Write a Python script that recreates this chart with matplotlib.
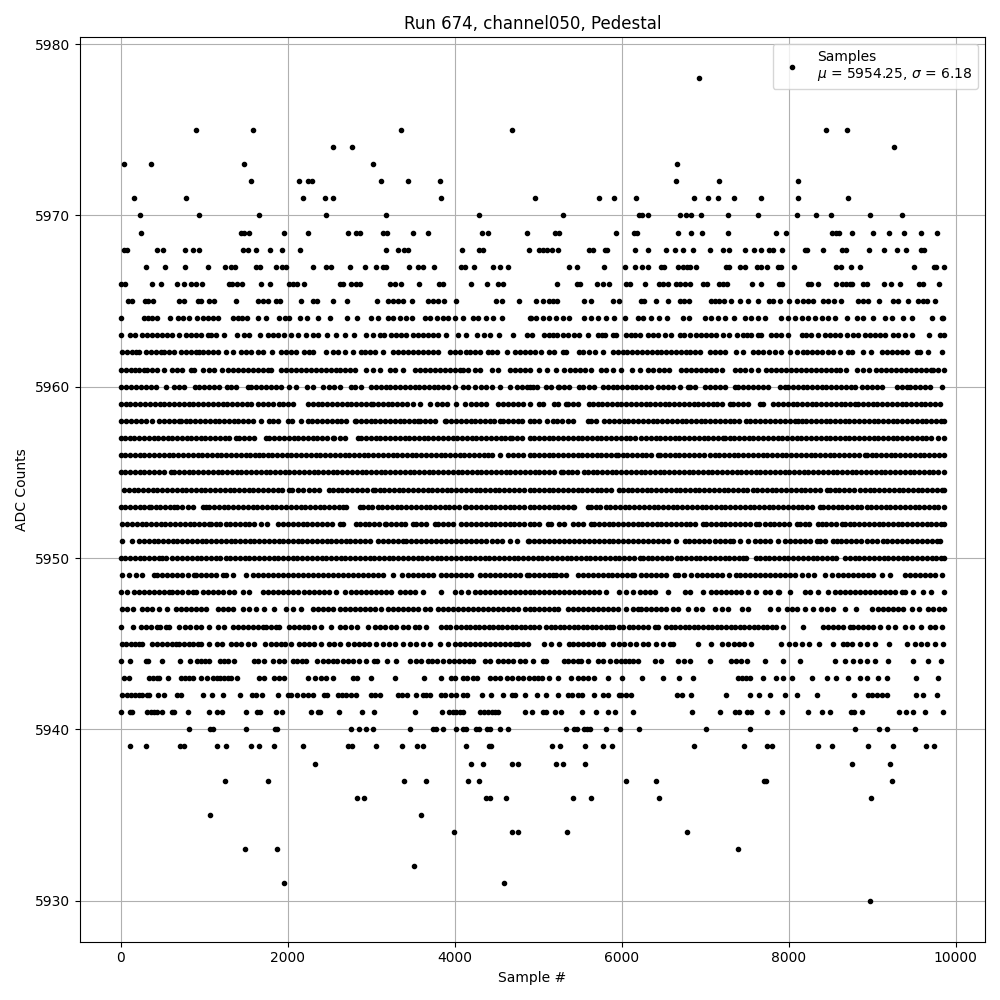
import matplotlib
matplotlib.use('Agg')
import matplotlib.pyplot as plt

# Sample numbers, one list per ADC level
s_5930 = [8976]
s_5931 = [1952, 4592]
s_5932 = [3512]
s_5933 = [1484, 1868, 7392]
s_5934 = [3992, 4688, 4760, 5340, 6780]
s_5935 = [1064, 3596]
s_5936 = [2828, 2912, 4376, 4424, 4616, 5412, 5628, 6444, 8988]
s_5937 = [1244, 1760, 3392, 3656, 4160, 4292, 6048, 6408, 7708, 7732, 9240]
s_5938 = [2324, 4196, 4340, 4688, 4760, 5208, 5292, 5556, 8760, 9216]
s_5939 = [116, 308, 716, 764, 1148, 1256, 1556, 1652, 1832, 2180, 2720, 2768, 3056, 3368, 3548, 3620, 4136, 4412,
          4436, 5160, 5256, 5556, 5772, 5880, 6864, 7464, 7740, 7800, 8352, 8520, 8952, 9252, 9648, 9744]
s_5940 = [812, 1064, 1100, 1496, 1844, 1868, 2756, 2852, 2936, 3020, 3464, 3740, 3776, 3860, 4016, 4100, 4140, 4256,
          4292, 4388, 4424, 4544, 4640, 5328, 5424, 5460, 5544, 5580, 5616, 5808, 5976, 6204, 7008, 7536, 8796, 9084,
          9180, 9516]
s_5941 = [0, 112, 136, 320, 364, 400, 440, 500, 620, 644, 800, 1052, 1148, 1208, 1496, 1628, 1664, 1856, 1928, 2276,
          2360, 2384, 2612, 2888, 3032, 3524, 3848, 3932, 3980, 4020, 4060, 4100, 4300, 4350, 4400, 4440, 4480, 4520,
          4844, 4920, 5052, 5092, 5196, 5268, 5520, 5688, 5832, 5916, 6132, 6840, 7176, 7356, 7404, 7500, 7548, 7740,
          7920, 8232, 8400, 8496, 8748, 8784, 8880, 9324, 9408, 9484, 9636, 9840]
s_5942 = [20, 70, 120, 170, 220, 260, 310, 340, 452, 524, 680, 724, 980, 1088, 1220, 1424, 1572, 1620, 1688, 1880,
          2000, 2036, 2108, 2188, 2240, 2300, 2432, 2468, 2600, 2650, 2700, 2760, 2820, 3000, 3050, 3100, 3320, 3370,
          3428, 3536, 3620, 3660, 3700, 3840, 3880, 3960, 4020, 4100, 4148, 4328, 4436, 4576, 4680, 4720, 4836, 4980,
          5088, 5232, 5352, 5400, 5472, 5520, 5672, 5772, 5832, 5964, 5988, 6048, 6108, 6660, 6720, 6828, 7248, 7536,
          7644, 7776, 7956, 8100, 8340, 8784, 8952, 9000, 9060, 9120, 9170, 9528, 9612, 9780]
s_5943 = [40, 100, 340, 390, 440, 460, 572, 720, 770, 820, 860, 956, 1028, 1100, 1150, 1190, 1240, 1280, 1320, 1388,
          1660, 1720, 1840, 1900, 1960, 2240, 2324, 2400, 2460, 2540, 2780, 2828, 2996, 3284, 3632, 3836, 3960, 4000,
          4100, 4148, 4220, 4268, 4420, 4480, 4540, 4620, 4680, 4760, 4812, 4892, 4950, 5000, 5050, 5130, 5232, 5392,
          5472, 5530, 5600, 5672, 5832, 6000, 6240, 6492, 6684, 6852, 7392, 7440, 7490, 7532, 7692, 7848, 7932, 8040,
          8280, 8460, 8568, 8712, 8852, 8932, 9072, 9180, 9528, 9792]
s_5944 = [8, 108, 300, 332, 500, 716, 824, 908, 960, 1010, 1060, 1190, 1240, 1290, 1360, 1592, 1640, 1720, 1820, 1900,
          1952, 2060, 2110, 2170, 2220, 2348, 2428, 2480, 2540, 2588, 2660, 2720, 2780, 2850, 2940, 3028, 3072, 3188,
          3292, 3460, 3540, 3592, 3680, 3730, 3790, 3860, 3932, 3990, 4050, 4110, 4170, 4220, 4360, 4420, 4520, 4580,
          4640, 4700, 4780, 4840, 4932, 5052, 5092, 5312, 5360, 5410, 5470, 5512, 5592, 5712, 5772, 5856, 5928, 5992,
          6040, 6090, 6130, 6192, 6392, 6472, 6672, 6740, 6812, 7052, 7312, 7372, 7424, 7500, 7716, 7932, 8136, 8556,
          8676, 8772, 8852, 8932, 9036, 9192, 9484, 9672, 9820]
s_5945 = [20, 60, 120, 170, 220, 260, 380, 440, 500, 560, 620, 660, 700, 760, 820, 870, 920, 960, 1060, 1148, 1210,
          1320, 1380, 1440, 1520, 1600, 1728, 1800, 1860, 1920, 1968, 2040, 2132, 2200, 2260, 2320, 2400, 2500, 2560,
          2620, 2720, 2790, 2850, 2910, 2970, 3060, 3140, 3212, 3280, 3380, 3460, 3540, 3620, 3700, 3820, 3920, 4000,
          4060, 4120, 4180, 4240, 4300, 4360, 4420, 4480, 4540, 4600, 4660, 4720, 4760, 4820, 4880, 5072, 5150, 5252,
          5372, 5412, 5470, 5530, 5590, 5650, 5732, 5772, 5892, 5964, 6032, 6100, 6170, 6252, 6312, 6412, 6492, 6572,
          6612, 6912, 7068, 7200, 7272, 7340, 7400, 7460, 7552, 7908, 8004, 8072, 8152, 8244, 8364, 8532, 8652, 8692,
          8752, 8852, 8932, 9032, 9200, 9412, 9512, 9580, 9652, 9756, 9840]
s_5946 = [0, 152, 240, 300, 360, 440, 476, 540, 580, 700, 772, 828, 900, 960, 1060, 1160, 1240, 1340, 1400, 1460, 1520,
          1580, 1640, 1700, 1740, 1800, 1860, 1900, 2020, 2080, 2140, 2190, 2240, 2320, 2400, 2520, 2620, 2680, 2760,
          2828, 2964, 3040, 3100, 3160, 3240, 3300, 3380, 3440, 3520, 3572, 3660, 3840, 3900, 3948, 4020, 4075, 4130,
          4185, 4240, 4295, 4350, 4405, 4460, 4515, 4570, 4625, 4680, 4735, 4790, 4845, 4900, 4950, 5012, 5092, 5147,
          5202, 5257, 5312, 5367, 5422, 5477, 5532, 5587, 5642, 5697, 5752, 5807, 5862, 5892, 5964, 6020, 6090, 6140,
          6195, 6250, 6310, 6392, 6432, 6532, 6587, 6642, 6697, 6752, 6807, 6862, 6917, 6972, 7027, 7082, 7137, 7192,
          7247, 7302, 7357, 7412, 7467, 7522, 7577, 7632, 7687, 7742, 7797, 7852, 7932, 8172, 8412, 8470, 8530, 8590,
          8650, 8732, 8772, 8830, 8890, 8950, 9010, 9092, 9192, 9272, 9392, 9472, 9580, 9692, 9752, 9832]
s_5947 = [20, 70, 150, 260, 320, 380, 460, 560, 660, 720, 780, 840, 900, 960, 1020, 1160, 1220, 1280, 1340, 1460, 1540,
          1620, 1720, 1840, 1980, 2060, 2160, 2300, 2360, 2420, 2480, 2540, 2620, 2680, 2740, 2800, 2860, 2920, 2980,
          3040, 3120, 3200, 3260, 3320, 3380, 3440, 3500, 3560, 3640, 3700, 3800, 3860, 3920, 3980, 4040, 4100, 4160,
          4220, 4280, 4340, 4400, 4460, 4520, 4580, 4640, 4700, 4760, 4840, 4900, 4952, 5012, 5072, 5132, 5192, 5232,
          5352, 5412, 5472, 5532, 5592, 5652, 5712, 5772, 5832, 5892, 5952, 6052, 6132, 6192, 6232, 6292, 6352, 6412,
          6472, 6532, 6612, 6672, 6792, 6892, 6964, 7116, 7200, 7272, 7440, 7512, 7780, 7872, 7980, 8040, 8100, 8192,
          8292, 8380, 8452, 8532, 8676, 8808, 8992, 9072, 9132, 9192, 9252, 9312, 9372, 9472, 9560, 9672, 9732, 9800,
          9852]
s_5948 = [0, 80, 160, 220, 280, 340, 400, 460, 520, 580, 620, 680, 740, 800, 860, 900, 980, 1040, 1100, 1160, 1220,
          1300, 1360, 1460, 1540, 1700, 1760, 1820, 1880, 1940, 2000, 2060, 2120, 2200, 2260, 2320, 2380, 2440, 2500,
          2580, 2688, 2760, 2820, 2880, 2940, 3000, 3060, 3120, 3180, 3240, 3340, 3400, 3460, 3520, 3620, 3832, 4000,
          4080, 4160, 4240, 4300, 4360, 4420, 4480, 4540, 4600, 4660, 4720, 4780, 4840, 4900, 4952, 5012, 5072, 5132,
          5192, 5252, 5312, 5372, 5432, 5492, 5552, 5612, 5672, 5732, 5812, 5972, 6052, 6132, 6212, 6272, 6332, 6392,
          6552, 6752, 6812, 6972, 7072, 7132, 7192, 7252, 7312, 7372, 7432, 7512, 7612, 7712, 7772, 7872, 7884, 8012,
          8192, 8252, 8352, 8472, 8552, 8612, 8672, 8732, 8792, 8852, 8912, 8972, 9032, 9092, 9152, 9212, 9272, 9352,
          9392, 9492, 9612, 9700, 9852]
s_5949 = [20, 100, 180, 260, 400, 440, 500, 560, 620, 680, 740, 800, 880, 900, 960, 1020, 1080, 1140, 1220, 1260, 1340,
          1500, 1580, 1640, 1700, 1760, 1820, 1880, 1940, 2000, 2060, 2120, 2180, 2240, 2300, 2360, 2420, 2480, 2540,
          2600, 2660, 2720, 2780, 2840, 2900, 2960, 3020, 3080, 3140, 3260, 3372, 3440, 3500, 3560, 3620, 3680, 3740,
          3840, 3900, 3960, 4020, 4080, 4140, 4200, 4300, 4360, 4420, 4480, 4540, 4600, 4660, 4720, 4780, 4860, 4892,
          4952, 5012, 5072, 5132, 5172, 5212, 5272, 5332, 5472, 5532, 5592, 5652, 5712, 5772, 5832, 5884, 5944, 6004,
          6064, 6124, 6152, 6224, 6292, 6352, 6412, 6472, 6532, 6632, 6672, 6740, 6830, 6900, 6960, 7020, 7080, 7140,
          7200, 7280, 7372, 7412, 7472, 7532, 7592, 7652, 7712, 7772, 7832, 7892, 7952, 8012, 8072, 8152, 8232, 8300,
          8432, 8512, 8592, 8652, 8712, 8772, 8832, 8892, 8952, 9012, 9112, 9212, 9392, 9452, 9512, 9572, 9632, 9692,
          9752, 9832]
s_5950 = [0, 55, 115, 170, 230, 285, 345, 400, 460, 500, 540, 620, 680, 735, 795, 850, 910, 965, 1025, 1080, 1140, 1195,
          1255, 1310, 1370, 1425, 1485, 1540, 1600, 1655, 1715, 1770, 1830, 1885, 1945, 2000, 2060, 2115, 2175, 2230,
          2290, 2345, 2405, 2460, 2520, 2575, 2635, 2690, 2750, 2805, 2865, 2920, 2980, 3035, 3095, 3150, 3210, 3265,
          3325, 3380, 3440, 3495, 3555, 3610, 3670, 3725, 3785, 3840, 3900, 3955, 4015, 4070, 4130, 4185, 4245, 4300,
          4360, 4415, 4475, 4530, 4590, 4645, 4705, 4760, 4820, 4880, 4935, 4995, 5050, 5110, 5165, 5225, 5280, 5340,
          5395, 5455, 5510, 5570, 5625, 5685, 5740, 5800, 5855, 5915, 5970, 6030, 6085, 6145, 6212, 6252, 6310, 6365,
          6425, 6480, 6540, 6595, 6655, 6710, 6770, 6825, 6885, 6940, 7000, 7055, 7115, 7170, 7230, 7285, 7345, 7400,
          7452, 7492, 7612, 7652, 7710, 7765, 7825, 7880, 7940, 7995, 8055, 8110, 8170, 8225, 8285, 8340, 8400, 8455,
          8515, 8570, 8672, 8732, 8790, 8845, 8905, 8960, 9020, 9075, 9135, 9190, 9250, 9305, 9365, 9420, 9480, 9535,
          9595, 9650, 9710, 9765, 9825, 9856]
s_5951 = [20, 140, 220, 278, 335, 395, 450, 510, 565, 625, 680, 740, 795, 855, 910, 970, 1025, 1085, 1140, 1200, 1255,
          1315, 1370, 1430, 1485, 1545, 1600, 1660, 1715, 1775, 1830, 1890, 1945, 2005, 2060, 2120, 2175, 2235, 2290,
          2350, 2405, 2465, 2520, 2580, 2635, 2695, 2750, 2810, 2865, 2925, 2980, 3080, 3140, 3200, 3260, 3320, 3380,
          3420, 3480, 3540, 3600, 3660, 3720, 3780, 3840, 3900, 3960, 4020, 4080, 4140, 4200, 4260, 4320, 4380, 4440,
          4500, 4560, 4660, 4740, 4880, 4892, 4952, 5012, 5070, 5130, 5190, 5250, 5310, 5370, 5430, 5490, 5550, 5610,
          5670, 5730, 5790, 5852, 5892, 5950, 6010, 6070, 6130, 6190, 6250, 6310, 6370, 6430, 6490, 6550, 6652, 6752,
          6810, 6870, 6930, 6990, 7050, 7110, 7170, 7230, 7292, 7332, 7412, 7512, 7592, 7652, 7710, 7770, 7872, 7952,
          8010, 8070, 8130, 8190, 8250, 8332, 8372, 8432, 8532, 8572, 8630, 8690, 8750, 8810, 8870, 8930, 8990, 9050,
          9132, 9172, 9230, 9290, 9350, 9410, 9470, 9530, 9590, 9650, 9710, 9770, 9812]
s_5952 = [20, 75, 135, 190, 250, 305, 365, 420, 480, 535, 595, 650, 710, 765, 825, 880, 940, 995, 1060, 1080, 1140,
          1195, 1255, 1310, 1370, 1425, 1485, 1540, 1600, 1680, 1748, 1880, 1948, 2005, 2065, 2120, 2180, 2235, 2295,
          2350, 2410, 2465, 2525, 2620, 2660, 2820, 2860, 2920, 2975, 3035, 3090, 3160, 3180, 3240, 3295, 3355, 3410,
          3500, 3540, 3600, 3655, 3760, 3800, 3860, 3915, 3975, 4080, 4140, 4200, 4255, 4315, 4370, 4430, 4485, 4545,
          4600, 4660, 4715, 4775, 4830, 4900, 4950, 5012, 5112, 5152, 5252, 5312, 5412, 5472, 5532, 5632, 5672, 5730,
          5785, 5845, 5900, 5960, 6015, 6075, 6130, 6190, 6245, 6305, 6360, 6420, 6475, 6535, 6590, 6650, 6705, 6765,
          6820, 6880, 6972, 7012, 7070, 7125, 7185, 7240, 7300, 7355, 7415, 7470, 7530, 7612, 7644, 7712, 7770, 7825,
          7885, 7940, 8000, 8092, 8132, 8190, 8245, 8352, 8392, 8450, 8505, 8565, 8632, 8672, 8730, 8785, 8845, 8900,
          8960, 9015, 9075, 9130, 9190, 9245, 9305, 9360, 9420, 9475, 9535, 9590, 9650, 9705, 9765, 9820, 9852]
s_5953 = [0, 55, 115, 170, 230, 285, 340, 360, 420, 475, 535, 590, 640, 680, 740, 800, 860, 980, 1020, 1060, 1120, 1175,
          1235, 1290, 1350, 1405, 1465, 1520, 1580, 1635, 1695, 1750, 1810, 1865, 1925, 1980, 2040, 2095, 2155, 2210,
          2270, 2325, 2385, 2440, 2500, 2555, 2615, 2660, 2700, 2860, 2900, 2960, 3015, 3075, 3130, 3190, 3245, 3305,
          3360, 3420, 3475, 3535, 3590, 3650, 3705, 3765, 3820, 3880, 3935, 3995, 4050, 4120, 4140, 4200, 4255, 4315,
          4370, 4430, 4485, 4545, 4600, 4660, 4715, 4775, 4830, 4900, 4950, 5012, 5070, 5125, 5185, 5240, 5300, 5355,
          5412, 5432, 5592, 5632, 5690, 5745, 5805, 5860, 5920, 5975, 6035, 6090, 6150, 6205, 6265, 6320, 6380, 6435,
          6495, 6550, 6610, 6665, 6725, 6780, 6840, 6895, 6955, 7010, 7070, 7125, 7185, 7240, 7300, 7355, 7415, 7470,
          7530, 7585, 7645, 7700, 7760, 7815, 7875, 7930, 7990, 8045, 8105, 8160, 8220, 8275, 8372, 8412, 8470, 8525,
          8585, 8640, 8700, 8755, 8815, 8870, 8930, 8985, 9045, 9100, 9160, 9215, 9275, 9330, 9390, 9445, 9505, 9560,
          9620, 9675, 9735, 9790, 9852]
s_5954 = [40, 95, 155, 210, 270, 325, 385, 440, 500, 555, 615, 670, 730, 785, 845, 900, 960, 1015, 1075, 1130, 1190,
          1245, 1305, 1360, 1420, 1475, 1535, 1590, 1650, 1705, 1765, 1820, 1880, 1935, 2020, 2052, 2120, 2180, 2260,
          2320, 2380, 2500, 2540, 2600, 2655, 2715, 2770, 2830, 2885, 2945, 3020, 3040, 3100, 3155, 3215, 3270, 3330,
          3385, 3445, 3500, 3560, 3615, 3675, 3730, 3790, 3845, 3905, 3960, 4020, 4075, 4135, 4190, 4250, 4305, 4365,
          4420, 4480, 4535, 4595, 4650, 4710, 4765, 4825, 4900, 4950, 5010, 5065, 5125, 5180, 5240, 5295, 5355, 5410,
          5470, 5525, 5585, 5640, 5700, 5755, 5815, 5870, 5972, 6012, 6070, 6125, 6185, 6240, 6300, 6355, 6415, 6470,
          6530, 6585, 6645, 6700, 6760, 6815, 6875, 6930, 6990, 7045, 7105, 7160, 7220, 7275, 7335, 7390, 7450, 7505,
          7565, 7620, 7680, 7735, 7795, 7850, 7910, 7965, 8025, 8080, 8140, 8195, 8255, 8310, 8370, 8452, 8492, 8550,
          8605, 8665, 8720, 8780, 8852, 8912, 8970, 9025, 9085, 9140, 9200, 9255, 9315, 9370, 9430, 9485, 9545, 9600,
          9660, 9715, 9775, 9830, 9852]
s_5955 = [0, 55, 115, 170, 230, 285, 345, 400, 460, 515, 600, 640, 700, 755, 815, 870, 930, 985, 1045, 1100, 1160, 1215,
          1275, 1330, 1390, 1445, 1505, 1560, 1620, 1675, 1735, 1790, 1850, 1905, 1965, 2020, 2080, 2135, 2195, 2250,
          2310, 2365, 2425, 2480, 2540, 2595, 2655, 2710, 2770, 2825, 2885, 2940, 3000, 3055, 3115, 3170, 3230, 3285,
          3345, 3400, 3460, 3515, 3575, 3630, 3690, 3745, 3805, 3860, 3920, 3975, 4035, 4090, 4150, 4205, 4265, 4320,
          4380, 4435, 4495, 4550, 4610, 4665, 4725, 4780, 4840, 4895, 4955, 5010, 5070, 5125, 5185, 5272, 5292, 5350,
          5405, 5465, 5552, 5592, 5650, 5705, 5765, 5820, 5880, 5935, 5995, 6050, 6110, 6165, 6225, 6280, 6340, 6395,
          6455, 6510, 6570, 6625, 6685, 6740, 6800, 6855, 6915, 6970, 7030, 7085, 7145, 7200, 7260, 7315, 7375, 7430,
          7490, 7545, 7605, 7660, 7720, 7775, 7835, 7890, 7950, 8005, 8065, 8120, 8180, 8235, 8295, 8350, 8410, 8465,
          8525, 8580, 8640, 8695, 8755, 8810, 8870, 8925, 8985, 9040, 9100, 9155, 9215, 9270, 9330, 9385, 9445, 9500,
          9560, 9615, 9675, 9730, 9790, 9852]
s_5956 = [0, 55, 115, 170, 230, 285, 345, 400, 460, 515, 575, 630, 690, 745, 805, 860, 920, 975, 1035, 1090, 1150, 1205,
          1265, 1320, 1380, 1435, 1495, 1550, 1610, 1660, 1700, 1760, 1815, 1875, 1930, 1990, 2045, 2105, 2160, 2220,
          2275, 2335, 2390, 2450, 2505, 2565, 2620, 2680, 2735, 2795, 2850, 2910, 2965, 3025, 3080, 3140, 3195, 3255,
          3310, 3370, 3425, 3485, 3540, 3600, 3655, 3715, 3770, 3830, 3885, 3945, 4000, 4060, 4115, 4175, 4230, 4290,
          4345, 4400, 4448, 4540, 4640, 4700, 4760, 4820, 4900, 4950, 5010, 5065, 5125, 5180, 5240, 5295, 5355, 5410,
          5470, 5525, 5585, 5640, 5700, 5755, 5815, 5870, 5932, 5952, 6010, 6065, 6125, 6180, 6240, 6295, 6355, 6432,
          6460, 6520, 6575, 6635, 6690, 6750, 6805, 6865, 6920, 6980, 7052, 7110, 7165, 7225, 7280, 7340, 7395, 7455,
          7510, 7570, 7625, 7685, 7740, 7800, 7855, 7915, 7970, 8030, 8085, 8145, 8200, 8260, 8315, 8375, 8430, 8490,
          8545, 8605, 8660, 8720, 8775, 8835, 8912, 8932, 8990, 9045, 9105, 9160, 9220, 9275, 9335, 9390, 9450, 9505,
          9565, 9620, 9680, 9735, 9795, 9852]
s_5957 = [0, 55, 110, 165, 225, 280, 335, 395, 450, 505, 565, 620, 675, 735, 790, 845, 905, 960, 1015, 1075, 1130, 1185,
          1245, 1300, 1380, 1420, 1480, 1540, 1600, 1740, 1780, 1840, 1895, 1955, 2010, 2070, 2125, 2185, 2240, 2300,
          2355, 2415, 2470, 2540, 2560, 2620, 2680, 2840, 2880, 2940, 2995, 3055, 3110, 3170, 3225, 3285, 3340, 3400,
          3455, 3515, 3570, 3630, 3685, 3745, 3800, 3860, 3915, 3975, 4030, 4090, 4145, 4205, 4260, 4320, 4375, 4435,
          4490, 4550, 4605, 4660, 4680, 4740, 4800, 4900, 4950, 5010, 5065, 5125, 5180, 5240, 5295, 5355, 5410, 5470,
          5525, 5585, 5640, 5700, 5755, 5815, 5870, 5930, 5985, 6045, 6100, 6164, 6232, 6290, 6345, 6405, 6460, 6520,
          6575, 6635, 6690, 6750, 6805, 6865, 6920, 6980, 7035, 7095, 7150, 7212, 7232, 7290, 7345, 7405, 7460, 7520,
          7575, 7635, 7690, 7750, 7805, 7865, 7920, 7980, 8035, 8095, 8150, 8210, 8265, 8325, 8380, 8440, 8495, 8555,
          8610, 8670, 8725, 8785, 8840, 8900, 8955, 9015, 9070, 9130, 9185, 9245, 9300, 9360, 9415, 9475, 9530, 9590,
          9645, 9705, 9792, 9852]
s_5958 = [0, 60, 120, 180, 240, 300, 380, 460, 520, 580, 640, 700, 720, 780, 835, 895, 950, 1010, 1065, 1125, 1180,
          1240, 1295, 1355, 1410, 1470, 1525, 1580, 1680, 1780, 1820, 1880, 2000, 2052, 2160, 2240, 2295, 2355, 2410,
          2470, 2525, 2585, 2640, 2700, 2800, 2820, 2880, 2935, 2995, 3050, 3110, 3165, 3225, 3280, 3340, 3395, 3455,
          3510, 3560, 3580, 3640, 3700, 3760, 3880, 3900, 3960, 4015, 4075, 4130, 4190, 4245, 4305, 4360, 4420, 4475,
          4540, 4580, 4640, 4695, 4755, 4810, 4900, 4950, 5010, 5100, 5172, 5230, 5290, 5350, 5410, 5592, 5632, 5692,
          5792, 5852, 5910, 5965, 6025, 6080, 6140, 6195, 6255, 6310, 6370, 6425, 6485, 6540, 6600, 6655, 6715, 6770,
          6830, 6885, 6945, 7000, 7060, 7115, 7175, 7230, 7290, 7345, 7405, 7492, 7532, 7590, 7650, 7710, 7770, 7830,
          7890, 7950, 8010, 8070, 8112, 8152, 8210, 8265, 8325, 8380, 8440, 8495, 8555, 8610, 8670, 8725, 8785, 8840,
          8900, 8955, 9015, 9070, 9130, 9185, 9245, 9300, 9360, 9415, 9475, 9530, 9590, 9645, 9705, 9760, 9820, 9852]
s_5959 = [0, 58, 115, 175, 232, 290, 350, 405, 465, 522, 580, 640, 695, 755, 812, 870, 930, 985, 1045, 1102, 1160, 1220,
          1275, 1335, 1392, 1450, 1510, 1565, 1640, 1700, 1760, 1820, 1900, 1940, 2000, 2060, 2240, 2300, 2360, 2415,
          2475, 2530, 2590, 2645, 2705, 2760, 2820, 2875, 2935, 3000, 3020, 3080, 3135, 3195, 3250, 3310, 3365, 3425,
          3500, 3580, 3700, 3788, 3850, 3910, 4020, 4120, 4200, 4260, 4320, 4380, 4520, 4580, 4640, 4700, 4760, 4820,
          4900, 5012, 5052, 5192, 5232, 5332, 5352, 5410, 5470, 5612, 5652, 5710, 5765, 5825, 5880, 5940, 5995, 6055,
          6110, 6170, 6225, 6285, 6340, 6400, 6455, 6515, 6570, 6630, 6685, 6745, 6800, 6860, 6915, 6975, 7030, 7090,
          7145, 7205, 7292, 7332, 7390, 7450, 7510, 7652, 7692, 7812, 7872, 7930, 7985, 8045, 8100, 8160, 8215, 8275,
          8330, 8390, 8445, 8505, 8560, 8620, 8675, 8735, 8792, 8832, 8890, 8945, 9005, 9060, 9120, 9175, 9235, 9290,
          9350, 9405, 9465, 9520, 9580, 9635, 9695, 9750, 9812]
s_5960 = [0, 60, 120, 180, 240, 300, 360, 420, 540, 640, 700, 760, 892, 940, 1000, 1060, 1120, 1180, 1268, 1320, 1380,
          1520, 1560, 1620, 1680, 1740, 1800, 1860, 1920, 2020, 2100, 2228, 2300, 2428, 2500, 2560, 2620, 2760, 2800,
          2880, 3000, 3060, 3115, 3175, 3230, 3290, 3345, 3405, 3460, 3520, 3575, 3635, 3690, 3750, 3805, 3865, 3920,
          4000, 4100, 4160, 4240, 4320, 4380, 4440, 4540, 4660, 4740, 4800, 4860, 4900, 4932, 4990, 5092, 5152, 5232,
          5252, 5310, 5370, 5492, 5532, 5612, 5672, 5772, 5832, 5890, 5945, 6005, 6060, 6120, 6175, 6235, 6290, 6350,
          6432, 6492, 6550, 6610, 6692, 6792, 6812, 6880, 6992, 7052, 7110, 7170, 7230, 7352, 7392, 7450, 7510, 7570,
          7630, 7690, 7750, 7892, 7952, 7992, 8050, 8105, 8165, 8220, 8280, 8335, 8395, 8450, 8510, 8565, 8625, 8680,
          8740, 8795, 8872, 8932, 8990, 9050, 9110, 9292, 9352, 9412, 9452, 9510, 9570, 9630, 9690, 9832]
s_5961 = [0, 60, 120, 170, 220, 280, 320, 380, 440, 520, 620, 680, 740, 840, 880, 980, 1060, 1120, 1208, 1280, 1340,
          1400, 1460, 1520, 1580, 1640, 1700, 1760, 1800, 1920, 1980, 2040, 2100, 2160, 2220, 2280, 2340, 2400, 2460,
          2520, 2580, 2620, 2680, 2740, 2800, 2940, 3020, 3100, 3220, 3280, 3380, 3520, 3580, 3640, 3700, 3760, 3820,
          3880, 3940, 4000, 4060, 4100, 4160, 4240, 4300, 4440, 4512, 4660, 4720, 4780, 4840, 4900, 5012, 5100, 5212,
          5312, 5380, 5440, 5500, 5560, 5630, 5752, 5812, 5890, 5992, 6120, 6212, 6312, 6372, 6440, 6500, 6560, 6712,
          6772, 6830, 6890, 6950, 7010, 7070, 7130, 7200, 7352, 7412, 7480, 7550, 7632, 7724, 7784, 7844, 7904, 7964,
          8024, 8084, 8144, 8204, 8264, 8324, 8384, 8444, 8504, 8564, 8612, 8684, 8812, 8892, 8964, 9040, 9100, 9160,
          9220, 9280, 9340, 9400, 9460, 9520, 9580, 9640, 9700, 9732, 9792, 9852]
s_5962 = [20, 80, 130, 180, 220, 300, 360, 420, 480, 520, 580, 640, 720, 780, 840, 900, 940, 980, 1040, 1100, 1160,
          1260, 1340, 1440, 1500, 1560, 1640, 1700, 1808, 1920, 1980, 2040, 2100, 2200, 2260, 2300, 2460, 2540, 2600,
          2680, 2780, 2880, 2920, 2980, 3040, 3140, 3260, 3320, 3380, 3440, 3500, 3560, 3620, 3680, 3740, 3800, 3940,
          4000, 4060, 4140, 4180, 4240, 4300, 4400, 4440, 4500, 4628, 4720, 4780, 4840, 4900, 4960, 5032, 5132, 5190,
          5292, 5332, 5492, 5532, 5612, 5680, 5772, 5892, 5952, 6010, 6068, 6126, 6184, 6242, 6300, 6358, 6416, 6474,
          6532, 6590, 6648, 6706, 6764, 6822, 6880, 6932, 7052, 7110, 7170, 7230, 7372, 7452, 7572, 7632, 7692, 7760,
          7830, 7912, 8012, 8092, 8172, 8212, 8272, 8340, 8400, 8472, 8532, 8612, 8712, 8752, 8892, 8984, 9112, 9170,
          9230, 9290, 9350, 9410, 9532, 9572, 9672, 9832]
s_5963 = [0, 108, 168, 260, 320, 380, 440, 500, 560, 620, 704, 780, 840, 900, 960, 1040, 1080, 1140, 1240, 1392, 1472,
          1532, 1664, 1760, 1820, 1880, 1960, 2040, 2120, 2220, 2300, 2360, 2468, 2580, 2680, 2792, 2936, 3020, 3100,
          3152, 3240, 3300, 3360, 3420, 3500, 3560, 3620, 3680, 3740, 3800, 3900, 4040, 4140, 4268, 4352, 4424, 4532,
          4700, 4860, 4924, 5072, 5130, 5172, 5220, 5292, 5360, 5432, 5492, 5600, 5712, 5760, 5804, 5892, 5932, 6052,
          6110, 6160, 6212, 6312, 6372, 6432, 6512, 6584, 6692, 6750, 6812, 6892, 6950, 7010, 7070, 7130, 7212, 7280,
          7380, 7452, 7500, 7552, 7632, 7672, 7792, 7850, 7910, 7992, 8152, 8210, 8270, 8352, 8432, 8490, 8550, 8610,
          8692, 8772, 8832, 8912, 8970, 9030, 9090, 9150, 9252, 9312, 9392, 9472, 9680, 9812, 9852]
s_5964 = [8, 284, 332, 380, 440, 596, 692, 752, 812, 908, 980, 1040, 1100, 1160, 1340, 1400, 1448, 1508, 1640, 1736,
          1892, 1964, 2012, 2144, 2228, 2360, 2504, 2708, 2828, 3000, 3080, 3200, 3260, 3340, 3416, 3488, 3644, 3704,
          3788, 3860, 3920, 4004, 4100, 4220, 4280, 4380, 4460, 4568, 4900, 4912, 4972, 5052, 5132, 5212, 5292, 5372,
          5544, 5628, 5712, 5812, 5912, 6044, 6192, 6252, 6352, 6444, 6540, 6732, 6804, 6992, 7072, 7152, 7232, 7344,
          7472, 7552, 7632, 7712, 7912, 7992, 8072, 8152, 8232, 8312, 8392, 8472, 8552, 8692, 8812, 8892, 9012, 9152,
          9232, 9372, 9472, 9720, 9832, 9850]
s_5965 = [92, 140, 296, 332, 392, 704, 764, 920, 956, 1052, 1112, 1376, 1640, 1700, 1760, 1856, 1904, 2156, 2300, 2348,
          2540, 2704, 3068, 3200, 3260, 3320, 3380, 3488, 3680, 3740, 3800, 3872, 4016, 4496, 4568, 4772, 4968, 5052,
          5124, 5172, 5220, 5544, 5628, 5892, 5964, 6228, 6264, 6408, 6552, 6696, 6744, 6804, 7068, 7116, 7164, 7224,
          7308, 7416, 7512, 7632, 7764, 7812, 7896, 8004, 8100, 8172, 8232, 8292, 8412, 8472, 8544, 8628, 8832, 8892,
          8952, 9084, 9252, 9312, 9432, 9552, 9612, 9660, 9752]
s_5966 = [0, 56, 380, 488, 680, 764, 836, 896, 968, 1292, 1328, 1388, 1448, 1676, 1784, 2012, 2060, 2108, 2192, 2624,
          2660, 2756, 2816, 2864, 3224, 3284, 3356, 3572, 3812, 3860, 4196, 4388, 4520, 4580, 5220, 5460, 5496, 5700,
          5772, 5844, 6048, 6096, 6276, 6444, 6492, 6552, 6648, 6696, 6756, 6816, 6972, 7020, 7164, 7212, 7260, 7560,
          7668, 7884, 7920, 8232, 8268, 8352, 8568, 8640, 8688, 8736, 8760, 8892, 8940, 9144, 9228, 9336, 9564, 9612,
          9804]
s_5967 = [308, 536, 776, 1040, 1244, 1316, 1364, 1616, 1664, 1856, 1928, 1976, 2300, 2456, 2516, 2744, 2924, 3056, 3140,
          3176, 3452, 3560, 3620, 3752, 4076, 4124, 4232, 4460, 4544, 4640, 5364, 5460, 5784, 6036, 6156, 6240, 6312,
          6468, 6504, 6672, 6732, 6780, 6816, 6888, 7248, 7284, 7416, 7476, 7620, 7668, 7740, 7872, 7908, 8064, 8568,
          8628, 8748, 8856, 9504, 9744, 9768, 9852]
s_5968 = [44, 76, 440, 512, 776, 860, 932, 1460, 1520, 1616, 1784, 1928, 2144, 3176, 3320, 3392, 3440, 4088, 4292, 4340,
          4892, 5004, 5052, 5100, 5160, 5232, 5604, 5652, 5796, 5820, 6156, 6312, 6528, 6636, 6732, 6852, 7056, 7212,
          7284, 7476, 7584, 7668, 7764, 7812, 7920, 8196, 8220, 8412, 8640, 8688, 8964, 9144, 9300, 9408, 9588, 9624]
s_5969 = [248, 1436, 1472, 1532, 1952, 2240, 2720, 2816, 2864, 3140, 3188, 3500, 3680, 4328, 4400, 4868, 5196, 5244,
          5928, 6144, 6180, 6672, 6828, 6960, 7272, 7848, 7968, 8520, 8568, 8604, 8760, 9012, 9204, 9384, 9588, 9780]
s_5970 = [236, 932, 1652, 2460, 3176, 4292, 5292, 6204, 6240, 6312, 6696, 6768, 6832, 6948, 7272, 7632, 8100, 8328,
          8508, 8976, 9360]
s_5971 = [164, 788, 2180, 2444, 2540, 3836, 4956, 5724, 5904, 6168, 6864, 7032, 7152, 7344, 7668, 8112, 8712]
s_5972 = [1556, 2132, 2240, 2288, 3116, 3440, 3824, 6648, 7164, 8112]
s_5973 = [44, 368, 1472, 3020, 6660]
s_5974 = [2540, 2768, 9264]
s_5975 = [896, 1580, 3356, 4688, 8448, 8700]
s_5978 = [6924]

levels = [5930, 5931, 5932, 5933, 5934, 5935, 5936, 5937, 5938, 5939, 5940, 5941, 5942, 5943, 5944, 5945, 5946, 5947,
          5948, 5949, 5950, 5951, 5952, 5953, 5954, 5955, 5956, 5957, 5958, 5959, 5960, 5961, 5962, 5963, 5964, 5965,
          5966, 5967, 5968, 5969, 5970, 5971, 5972, 5973, 5974, 5975, 5978]
samples = [s_5930, s_5931, s_5932, s_5933, s_5934, s_5935, s_5936, s_5937, s_5938, s_5939, s_5940, s_5941, s_5942,
           s_5943, s_5944, s_5945, s_5946, s_5947, s_5948, s_5949, s_5950, s_5951, s_5952, s_5953, s_5954, s_5955,
           s_5956, s_5957, s_5958, s_5959, s_5960, s_5961, s_5962, s_5963, s_5964, s_5965, s_5966, s_5967, s_5968,
           s_5969, s_5970, s_5971, s_5972, s_5973, s_5974, s_5975, s_5978]

x = []
y = []
for level, row in zip(levels, samples):
    x.extend(row)
    y.extend([level] * len(row))

plt.figure(figsize=(10, 10))
plt.plot(x, y, 'k.', label='Samples\n$\\mu$ = 5954.25, $\\sigma$ = 6.18')
plt.title('Run 674, channel050, Pedestal')
plt.xlabel('Sample #')
plt.ylabel('ADC Counts')
plt.legend(loc='upper right')
plt.grid(True)
plt.ticklabel_format(useOffset=False, axis='y')
plt.tight_layout()
plt.savefig('out.png', dpi=100)
